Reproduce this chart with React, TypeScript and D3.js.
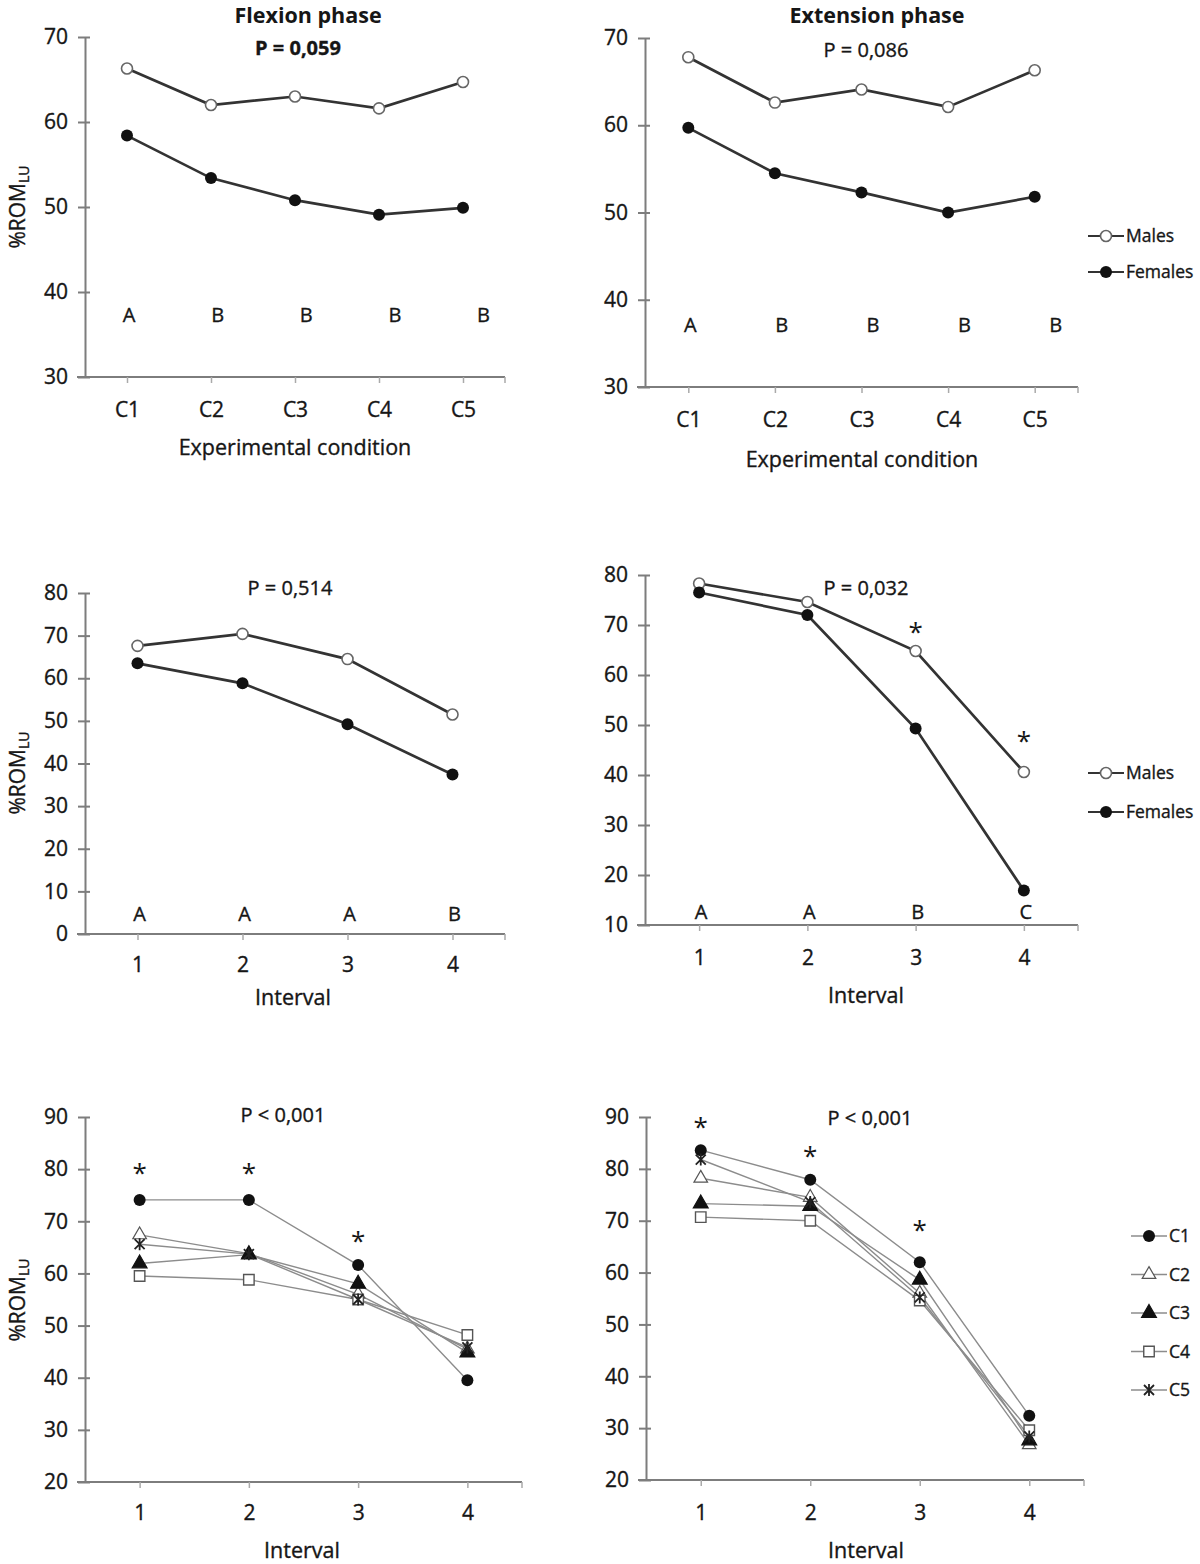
import React, { useEffect, useRef } from "react";
import * as d3 from "d3";

// categories
const conditions = ["C1", "C2", "C3", "C4", "C5"];
const intervals = ["1", "2", "3", "4"];

// flexion / extension phase by experimental condition
const flexMales = [66.3, 62.0, 63.0, 61.6, 64.7];
const flexFemales = [58.4, 53.4, 50.8, 49.1, 49.9];
const extMales = [67.8, 62.6, 64.1, 62.1, 66.3];
const extFemales = [59.7, 54.5, 52.3, 50.0, 51.8];
const condLetters = ["A", "B", "B", "B", "B"];

// by interval, males vs females
const flexIntMales = [67.6, 70.4, 64.5, 51.5];
const flexIntFemales = [63.5, 58.8, 49.2, 37.4];
const extIntMales = [78.3, 74.6, 64.8, 40.6];
const extIntFemales = [76.5, 72.0, 49.3, 16.9];
const flexIntLetters = ["A", "A", "A", "B"];
const extIntLetters = ["A", "A", "B", "C"];
const extIntStars = [null, null, 69.5, 47.6];

// by interval, per condition
const flexC1 = [74.1, 74.1, 61.6, 39.5];
const flexC2 = [67.4, 63.8, 56.0, 45.5];
const flexC3 = [61.9, 63.6, 58.0, 44.8];
const flexC4 = [59.5, 58.8, 55.0, 48.2];
const flexC5 = [65.6, 63.7, 55.0, 45.8];
const flexCondStars = [80, 80, 67, null];

const extC1 = [83.6, 77.9, 62.0, 32.4];
const extC2 = [78.2, 74.5, 56.0, 26.8];
const extC3 = [73.3, 72.8, 58.6, 27.6];
const extC4 = [70.7, 70.0, 54.6, 29.6];
const extC5 = [81.8, 73.6, 55.2, 28.4];
const extCondStars = [88.8, 83.3, 69, null];

const FONT = "'Open Sans', 'DejaVu Sans', sans-serif";
const TXT = "#161616";
const AXIS = "#7d7d7d";

const sexSeries = (m, f) => [
  { name: "Males", values: m, marker: "openCircle" },
  { name: "Females", values: f, marker: "circle" },
];
const condSeries = (a, b, c, d, e) => [
  { name: "C1", values: a, marker: "circle" },
  { name: "C2", values: b, marker: "openTriangle" },
  { name: "C3", values: c, marker: "triangle" },
  { name: "C4", values: d, marker: "openSquare" },
  { name: "C5", values: e, marker: "star" },
];

const panels = [
  {
    cats: conditions, series: sexSeries(flexMales, flexFemales),
    x0: 85, x1: 505, yb: 377, yt: 37, domain: [30, 70], step: 10,
    title: "Flexion phase", titleX: 308, p: "P = 0,059", pBold: true, px: 298, py: 48,
    letters: condLetters, letterVal: 37.3, letterSpread: 0.055,
    xTitle: "Experimental condition", xtx: 295, xty: 447, xLab: 33, yLabel: 207,
    thin: false,
  },
  {
    cats: conditions, series: sexSeries(extMales, extFemales),
    x0: 645, x1: 1078, yb: 387, yt: 38, domain: [30, 70], step: 10,
    title: "Extension phase", titleX: 877, p: "P = 0,086", pBold: false, px: 866, py: 50,
    letters: condLetters, letterVal: 37.1, letterSpread: 0.055,
    xTitle: "Experimental condition", xtx: 862, xty: 459, xLab: 33,
    legend: { x: 1088, y: 236, gap: 36 }, thin: false,
  },
  {
    cats: intervals, series: sexSeries(flexIntMales, flexIntFemales),
    x0: 85, x1: 505, yb: 934, yt: 593, domain: [0, 80], step: 10,
    p: "P = 0,514", px: 290, py: 588,
    letters: flexIntLetters, letterVal: 4.6, letterSpread: 0,
    xTitle: "Interval", xtx: 293, xty: 997, xLab: 31, yLabel: 773, thin: false,
  },
  {
    cats: intervals, series: sexSeries(extIntMales, extIntFemales),
    x0: 645, x1: 1078, yb: 925, yt: 575, domain: [10, 80], step: 10,
    p: "P = 0,032", px: 866, py: 588,
    letters: extIntLetters, letterVal: 12.6, letterSpread: 0, stars: extIntStars,
    xTitle: "Interval", xtx: 866, xty: 995, xLab: 33,
    legend: { x: 1088, y: 773, gap: 39 }, thin: false,
  },
  {
    cats: intervals, series: condSeries(flexC1, flexC2, flexC3, flexC4, flexC5),
    x0: 85, x1: 522, yb: 1482, yt: 1117, domain: [20, 90], step: 10,
    p: "P < 0,001", px: 283, py: 1115, stars: flexCondStars,
    xTitle: "Interval", xtx: 302, xty: 1550, xLab: 31, yLabel: 1300, thin: true,
  },
  {
    cats: intervals, series: condSeries(extC1, extC2, extC3, extC4, extC5),
    x0: 646, x1: 1084, yb: 1480, yt: 1117, domain: [20, 90], step: 10,
    p: "P < 0,001", px: 870, py: 1118, stars: extCondStars,
    xTitle: "Interval", xtx: 866, xty: 1550, xLab: 33,
    legend: { x: 1131, y: 1236, gap: 38.5 }, thin: true,
  },
];

// a hair of stroke makes the text as heavy as the scanned figure
const heavy = (sel) => sel.attr("stroke", TXT).attr("stroke-width", 0.35);

function drawMarker(g, kind, cx, cy) {
  const t = `translate(${cx},${cy})`;
  if (kind === "circle") {
    g.append("circle").attr("cx", cx).attr("cy", cy).attr("r", 6).attr("fill", "#111");
  } else if (kind === "openCircle") {
    g.append("circle").attr("cx", cx).attr("cy", cy).attr("r", 5.5)
      .attr("fill", "#fff").attr("stroke", "#666").attr("stroke-width", 1.6);
  } else if (kind === "triangle" || kind === "openTriangle") {
    const open = kind === "openTriangle";
    g.append("path").attr("transform", t)
      .attr("d", d3.symbol(d3.symbolTriangle, open ? 80 : 95)())
      .attr("fill", open ? "#fff" : "#111")
      .attr("stroke", open ? "#555" : "#111").attr("stroke-width", 1.2);
  } else if (kind === "openSquare") {
    g.append("path").attr("transform", t)
      .attr("d", d3.symbol(d3.symbolSquare, 110)())
      .attr("fill", "#fff").attr("stroke", "#555").attr("stroke-width", 1.4);
  } else if (kind === "star") {
    g.append("path").attr("transform", t)
      .attr("d", "M-5,-5L5,5M-5,5L5,-5M0,-6L0,6")
      .attr("stroke", "#222").attr("stroke-width", 1.8).attr("fill", "none");
  }
}

function drawPanel(svg, p) {
  const g = svg.append("g");
  const x = d3.scalePoint().domain(p.cats).range([p.x0, p.x1]).padding(0.5);
  const y = d3.scaleLinear().domain(p.domain).range([p.yb, p.yt]);
  const ticks = d3.range(p.domain[0], p.domain[1] + 0.1, p.step);

  // y axis with crossing ticks
  const ya = g.append("g").attr("transform", `translate(${p.x0},0)`)
    .call(d3.axisLeft(y).tickValues(ticks).tickSize(7).tickSizeOuter(0).tickPadding(10));
  ya.select(".domain").attr("stroke", AXIS).attr("stroke-width", 2);
  ya.selectAll(".tick line").attr("x1", 5).attr("stroke", AXIS).attr("stroke-width", 2);
  ya.selectAll(".tick text").attr("font-family", FONT).attr("font-size", 21).attr("fill", TXT)
    .call(heavy);

  // x axis
  const xa = g.append("g").attr("transform", `translate(0,${p.yb})`)
    .call(d3.axisBottom(x).tickSize(6).tickSizeOuter(0));
  xa.select(".domain").attr("stroke", AXIS).attr("stroke-width", 2)
    .attr("d", `M${p.x0 - 8},0H${p.x1}`);
  xa.selectAll(".tick line").attr("stroke", "#aaa").attr("stroke-width", 1.5);
  xa.selectAll(".tick text").attr("font-family", FONT).attr("font-size", 21)
    .attr("fill", TXT).attr("y", p.xLab).attr("dy", "0.35em").call(heavy);
  xa.append("line").attr("x1", p.x1).attr("x2", p.x1).attr("y1", 0).attr("y2", 6)
    .attr("stroke", "#aaa").attr("stroke-width", 1.5);

  // lines and markers
  const lineColor = p.thin ? "#8c8c8c" : "#333";
  const lineW = p.thin ? 1.4 : 2.7;
  p.series.forEach((s) => {
    const line = d3.line().x((d, i) => x(p.cats[i])).y((d) => y(d));
    g.append("path").attr("d", line(s.values)).attr("fill", "none")
      .attr("stroke", lineColor).attr("stroke-width", lineW);
  });
  p.series.forEach((s) => {
    s.values.forEach((v, i) => drawMarker(g, s.marker, x(p.cats[i]), y(v)));
  });

  // letters
  if (p.letters) {
    const step = x.step();
    p.letters.forEach((l, i) => {
      g.append("text").attr("x", x(p.cats[i]) + i * step * p.letterSpread + 2)
        .attr("y", y(p.letterVal)).attr("dy", "0.35em")
        .attr("text-anchor", "middle").attr("font-family", FONT).attr("font-size", 20)
        .attr("fill", TXT).call(heavy).text(l);
    });
  }

  // significance stars
  if (p.stars) {
    p.stars.forEach((v, i) => {
      if (v == null) return;
      g.append("text").attr("x", x(p.cats[i])).attr("y", y(v) + 13)
        .attr("text-anchor", "middle").attr("font-family", FONT).attr("font-size", 26)
        .attr("fill", TXT).text("*");
    });
  }

  // texts
  if (p.title) {
    g.append("text").attr("x", p.titleX).attr("y", 15).attr("dy", "0.35em")
      .attr("text-anchor", "middle").attr("font-family", FONT).attr("font-size", 21.5)
      .attr("font-weight", "bold").attr("fill", TXT).text(p.title);
  }
  g.append("text").attr("x", p.px).attr("y", p.py).attr("dy", "0.35em")
    .attr("text-anchor", "middle").attr("font-family", FONT).attr("font-size", 20)
    .attr("font-weight", p.pBold ? "bold" : "normal").attr("fill", TXT).call(heavy).text(p.p);
  g.append("text").attr("x", p.xtx).attr("y", p.xty).attr("dy", "0.35em")
    .attr("text-anchor", "middle").attr("font-family", FONT).attr("font-size", 21.5)
    .attr("fill", TXT).call(heavy).text(p.xTitle);

  if (p.yLabel) {
    const t = g.append("text").attr("transform", `translate(25,${p.yLabel}) rotate(-90)`)
      .attr("text-anchor", "middle").attr("font-family", FONT).attr("font-size", 21)
      .attr("fill", TXT).call(heavy);
    t.append("tspan").text("%ROM");
    t.append("tspan").attr("font-size", 14).attr("dy", 4).text("LU");
  }

  // legend
  if (p.legend) {
    p.series.forEach((s, i) => {
      const ly = p.legend.y + i * p.legend.gap;
      const lg = svg.append("g");
      lg.append("line").attr("x1", p.legend.x).attr("x2", p.legend.x + 36)
        .attr("y1", ly).attr("y2", ly).attr("stroke", lineColor).attr("stroke-width", p.thin ? 1.4 : 2);
      drawMarker(lg, s.marker, p.legend.x + 18, ly);
      lg.append("text").attr("x", p.legend.x + 38).attr("y", ly).attr("dy", "0.35em")
        .attr("font-family", FONT).attr("font-size", 17.5).attr("fill", TXT).call(heavy)
        .text(s.name);
    });
  }
}

export default function App() {
  const svgRef = useRef(null);

  useEffect(() => {
    const svg = d3.select(svgRef.current);
    svg.selectAll("*").remove();
    svg.append("rect").attr("width", 1200).attr("height", 1564).attr("fill", "#fff");
    panels.forEach((p) => drawPanel(svg, p));
  }, []);

  return (
    <svg
      ref={svgRef}
      width={1200}
      height={1564}
      style={{ position: "absolute", left: 0, top: 0 }}
    ></svg>
  );
}
